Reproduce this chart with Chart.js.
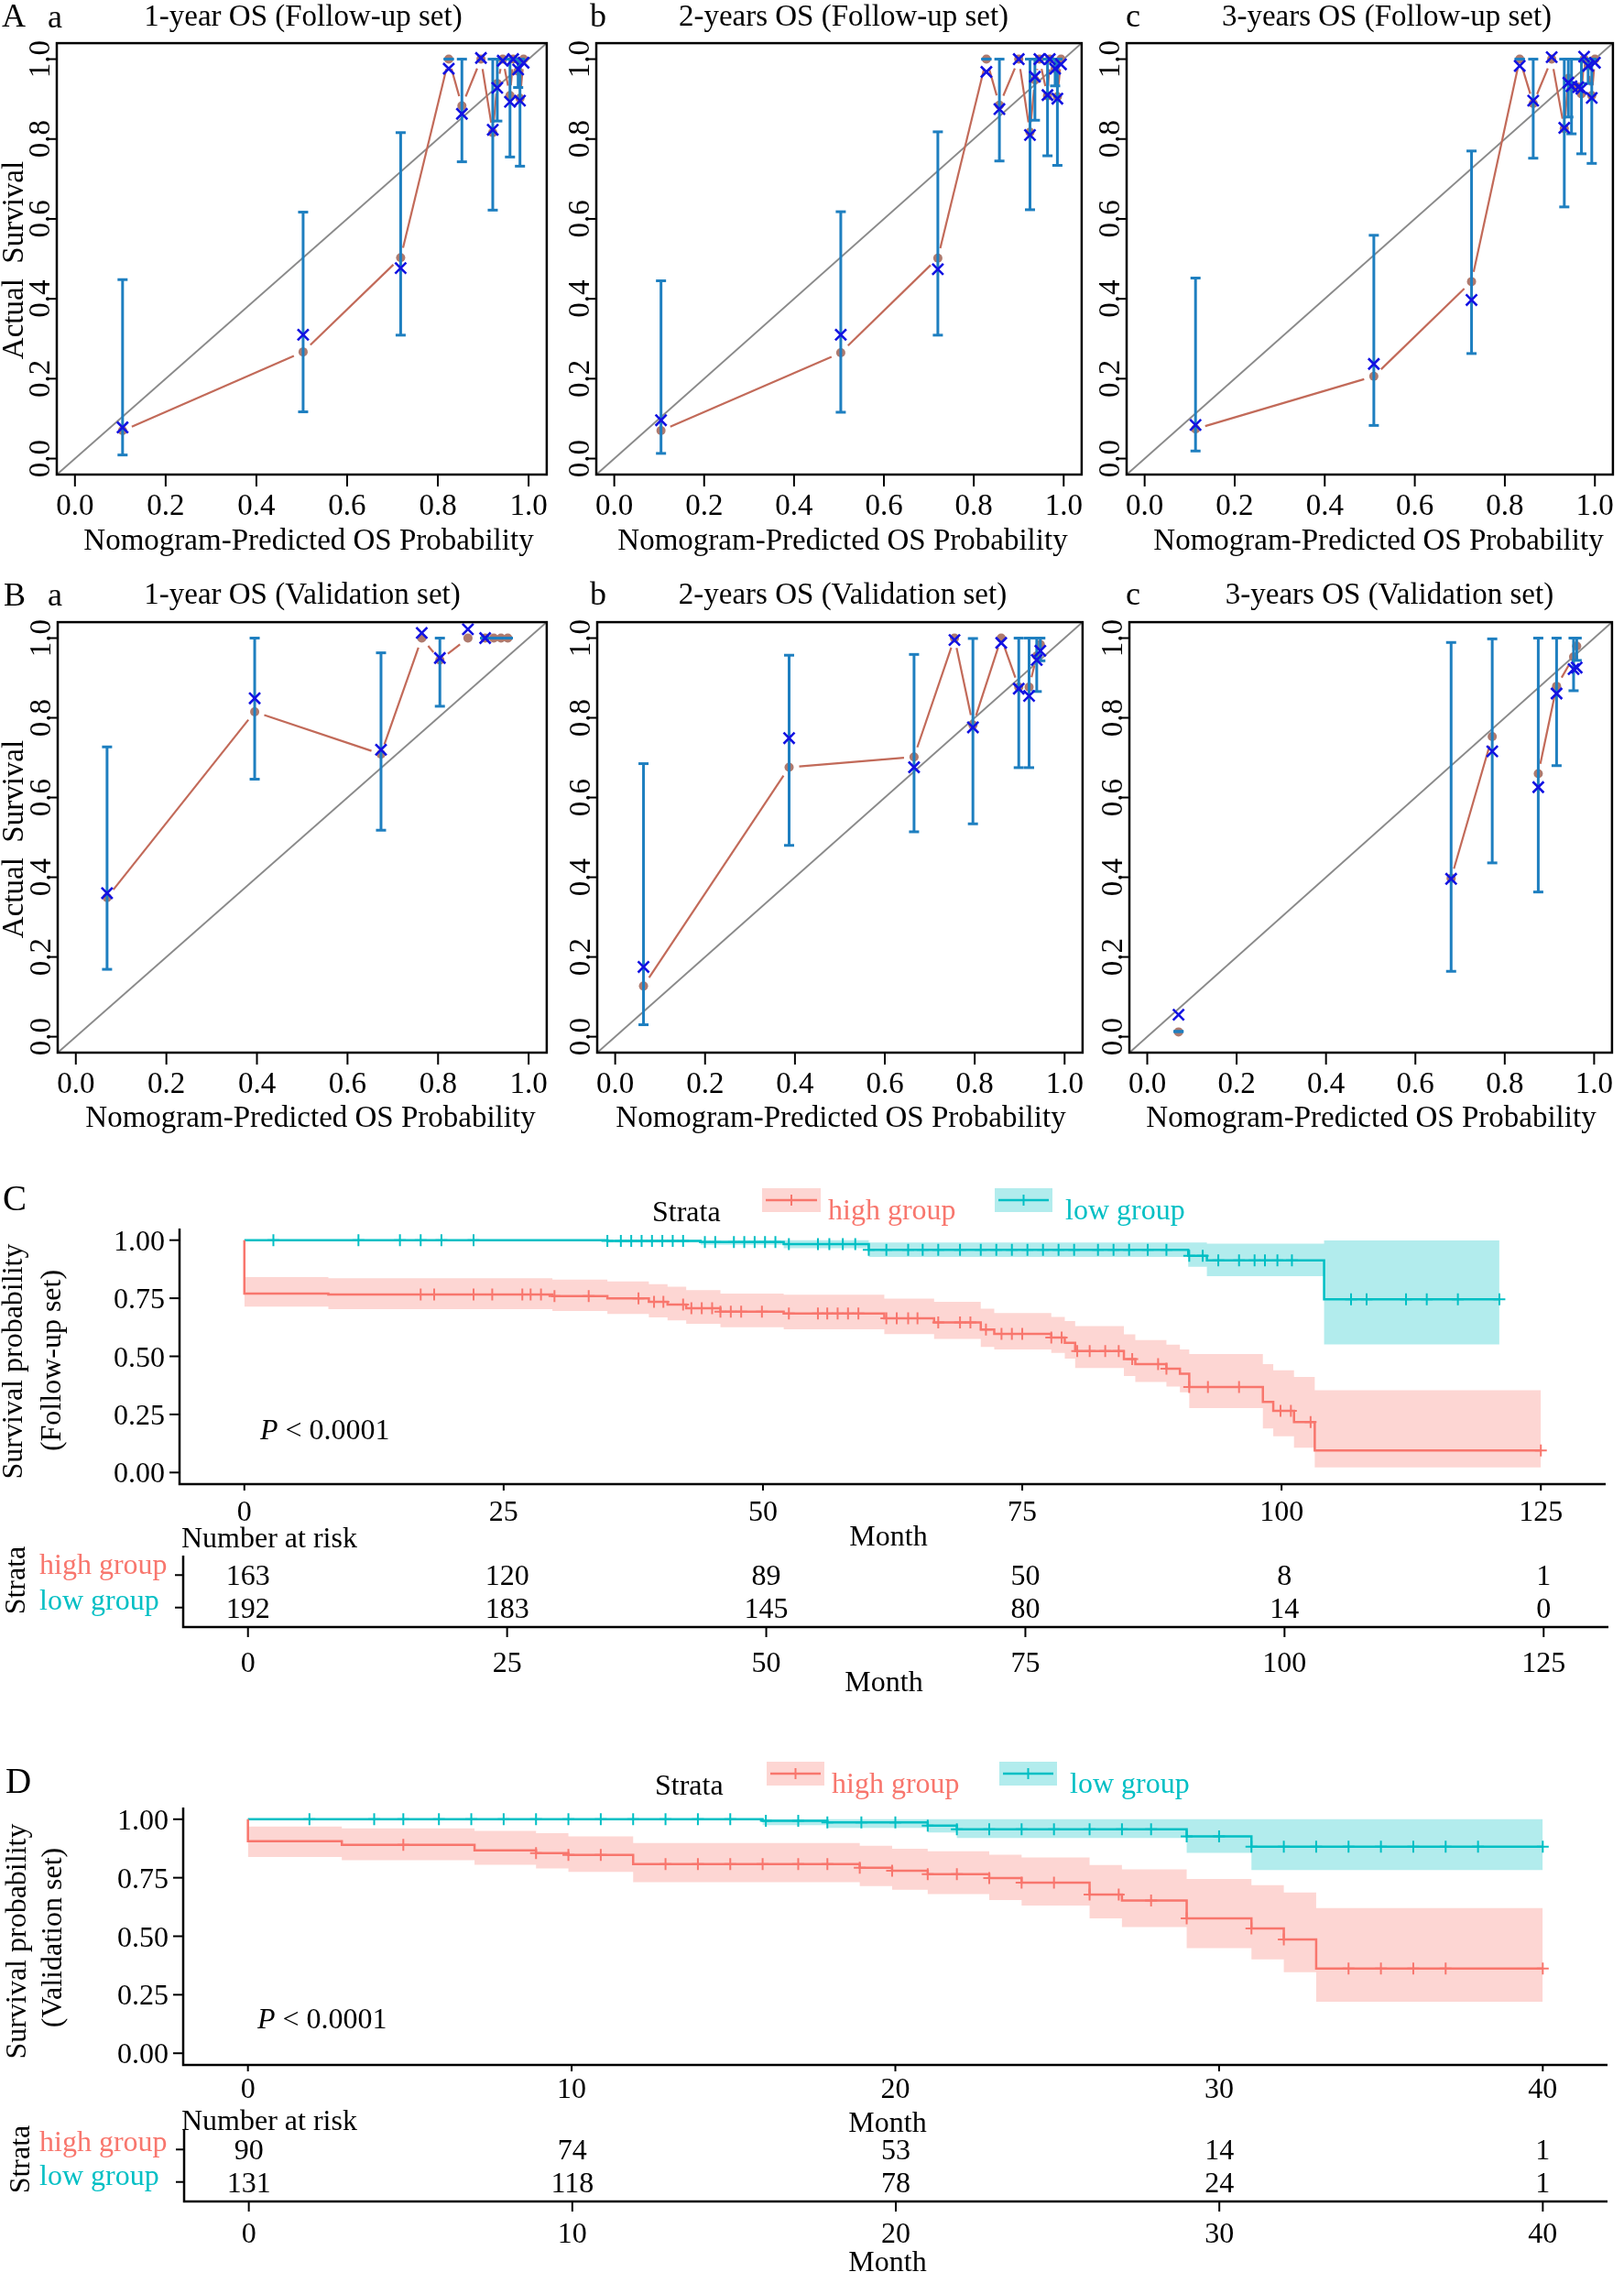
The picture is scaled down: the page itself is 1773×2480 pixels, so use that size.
<!DOCTYPE html>
<html><head><meta charset="utf-8">
<script src="https://cdn.jsdelivr.net/npm/chart.js@4.4.1/dist/chart.umd.min.js"></script>
<style>
html,body{margin:0;padding:0;background:#fff}
body{width:1773px;height:2480px;position:relative;overflow:hidden;font-family:"Liberation Serif","Times New Roman",serif}
canvas{position:absolute}
.t{position:absolute;white-space:pre;line-height:1;color:#000}
</style></head><body>
<script>
// ================= DATA =================
const calTicks = [0, 0.2, 0.4, 0.6, 0.8, 1.0];
const AX = [-0.04, 1.04];

// A a : 1-year OS (Follow-up set)
const aa_pred = [0.105, 0.503, 0.718, 0.824, 0.853, 0.895, 0.921, 0.931, 0.943, 0.959, 0.966, 0.977, 0.981, 0.989];
const aa_obs  = [0.070, 0.267, 0.503, 1.000, 0.883, 1.000, 0.816, 0.939, 1.000, 0.909, 1.000, 0.970, 0.902, 1.000];
const aa_cor  = [0.078, 0.310, 0.477, 0.976, 0.863, 1.003, 0.823, 0.928, 0.996, 0.893, 1.000, 0.974, 0.896, 0.991];
const aa_lo   = [0.009, 0.117, 0.309, 1.000, 0.743, null, 0.622, 0.845, null, 0.755, null, 0.929, 0.732, null];
const aa_hi   = [0.448, 0.617, 0.816, 1.000, 1.000, null, 1.000, 1.000, null, 1.000, null, 1.000, 1.000, null];
// A b : 2-years OS (Follow-up set)
const ab_pred = [0.104, 0.504, 0.720, 0.828, 0.857, 0.900, 0.925, 0.936, 0.946, 0.964, 0.969, 0.981, 0.986, 0.994];
const ab_obs  = [0.070, 0.265, 0.502, 1.000, 0.885, 1.000, 0.817, 0.948, 1.000, 0.908, 1.000, 0.976, 0.906, 1.000];
const ab_cor  = [0.096, 0.310, 0.474, 0.968, 0.875, 1.000, 0.810, 0.956, 1.000, 0.910, 1.000, 0.976, 0.901, 0.987];
const ab_lo   = [0.013, 0.116, 0.309, 1.000, 0.745, null, 0.623, 0.847, null, 0.758, null, 0.933, 0.734, null];
const ab_hi   = [0.445, 0.618, 0.818, 1.000, 1.000, null, 1.000, 1.000, null, 1.000, null, 1.000, 1.000, null];
// A c : 3-years OS (Follow-up set)
const ac_pred = [0.113, 0.509, 0.726, 0.833, 0.863, 0.904, 0.932, 0.941, 0.948, 0.963, 0.970, 0.976, 0.985, 0.993, 1.000];
const ac_obs  = [0.074, 0.206, 0.443, 1.000, 0.889, 1.000, 0.826, 0.952, 0.930, 0.930, 0.913, 1.000, 0.983, 0.909, 1.000];
const ac_cor  = [0.084, 0.237, 0.397, 0.983, 0.896, 1.005, 0.828, 0.941, 0.932, 0.930, 0.926, 1.006, 0.983, 0.903, 0.991];
const ac_lo   = [0.019, 0.083, 0.263, 1.000, 0.752, null, 0.630, 0.855, 0.813, null, 0.763, null, 0.939, 0.739, null];
const ac_hi   = [0.452, 0.559, 0.770, 1.000, 1.000, null, 1.000, 1.000, 1.000, null, 1.000, null, 1.000, 1.000, null];
// B a : 1-year OS (Validation set)
const ba_pred = [0.069, 0.395, 0.674, 0.764, 0.804, 0.866, 0.904, 0.923, 0.939, 0.954];
const ba_obs  = [0.349, 0.815, 0.709, 1.000, 0.945, 1.000, 1.000, 1.000, 1.000, 1.000];
const ba_cor  = [0.360, 0.849, 0.720, 1.013, 0.950, 1.022, 1.000, null, null, null];
const ba_lo   = [0.169, 0.646, 0.518, null, 0.829, null, 1.000, 1.000, 1.000, 1.000];
const ba_hi   = [0.727, 1.000, 0.963, null, 1.000, null, 1.000, 1.000, 1.000, 1.000];
// B b : 2-years OS (Validation set)
const bb_pred = [0.063, 0.387, 0.665, 0.755, 0.796, 0.859, 0.898, 0.921, 0.938, 0.946];
const bb_obs  = [0.127, 0.676, 0.702, 1.000, 0.782, 1.000, 0.877, 0.877, 0.955, 0.984];
const bb_cor  = [0.175, 0.749, 0.676, 0.995, 0.776, 0.988, 0.873, 0.855, 0.945, 0.968];
const bb_lo   = [0.030, 0.480, 0.514, null, 0.534, null, 0.675, 0.675, 0.866, 0.943];
const bb_hi   = [0.685, 0.957, 0.959, null, 0.999, null, 1.000, 1.000, 1.000, 1.000];
// B c : 3-years OS (Validation set)
const bc_pred = [0.070, 0.680, 0.772, 0.875, 0.916, 0.954, 0.961];
const bc_obs  = [0.012, 0.397, 0.753, 0.660, 0.879, 0.953, 0.980];
const bc_cor  = [0.055, 0.396, 0.716, 0.626, 0.861, 0.922, 0.926];
const bc_lo   = [0.013, 0.164, 0.436, 0.363, 0.680, 0.868, 0.944];
const bc_hi   = [0.013, 0.989, 0.998, 1.000, 1.000, 1.000, 1.000];
const bc_gapAfter = [0, 2];

// Kaplan-Meier
const kmYTicks = [0, 0.25, 0.50, 0.75, 1.00];
const cTimeTicks = [0, 25, 50, 75, 100, 125];
const dTimeTicks = [0, 10, 20, 30, 40];

// C (Follow-up set)
const cHi_time = [0, 0, 8.1, 29.7, 35.0, 39.0, 40.8, 42.6, 45.9, 52.0, 61.7, 66.5, 71.0, 72.3, 77.8, 79.1, 80.1, 84.8, 85.9, 88.9, 90.2, 91.1, 98.2, 99.2, 101.2, 103.2];
const cHi_surv = [1, 0.770, 0.766, 0.759, 0.749, 0.735, 0.723, 0.707, 0.692, 0.684, 0.664, 0.646, 0.615, 0.597, 0.581, 0.558, 0.523, 0.488, 0.466, 0.447, 0.425, 0.368, 0.304, 0.265, 0.217, 0.095];
const cHi_up   = [1, 0.841, 0.836, 0.830, 0.822, 0.810, 0.800, 0.785, 0.770, 0.765, 0.748, 0.735, 0.705, 0.686, 0.670, 0.652, 0.630, 0.595, 0.570, 0.550, 0.530, 0.510, 0.466, 0.440, 0.411, 0.354];
const cHi_lo   = [1, 0.714, 0.703, 0.695, 0.682, 0.668, 0.655, 0.640, 0.625, 0.616, 0.596, 0.575, 0.540, 0.530, 0.515, 0.490, 0.450, 0.415, 0.390, 0.370, 0.345, 0.277, 0.190, 0.156, 0.107, 0.022];
const cHi_end = 125;
const cHi_cens = [17, 18.3, 22.1, 23.9, 26.8, 27.6, 28.6, 29.9, 33.2, 38, 39.5, 40.4, 42.3, 43.1, 44.1, 45.1, 45.9, 46.9, 47.9, 49.9, 52.5, 55.3, 56.2, 57.2, 58.2, 59.2, 61.9, 62.9, 64, 64.9, 66.9, 69, 70, 71.5, 73, 74, 75, 77.8, 78.8, 80.3, 81.5, 83, 84.3, 85.6, 88.1, 88.9, 91.1, 92.9, 95.9, 99.9, 100.9, 102.8, 125];
const cLo_time = [0, 35, 44, 52, 60.2, 91, 92.8, 104.1];
const cLo_surv = [1, 0.997, 0.992, 0.983, 0.958, 0.933, 0.913, 0.745];
const cLo_up   = [1, 1, 1, 1, 0.990, 0.990, 0.985, 0.999];
const cLo_lo   = [1, 0.99, 0.980, 0.965, 0.928, 0.885, 0.845, 0.551];
const cLo_end = 121;
const cLo_cens = [2.8, 11, 15, 17, 19, 22.1, 35, 36.3, 37.3, 38.3, 39.3, 40.3, 41.3, 42.3, 44.4, 45.4, 47.2, 48.2, 49.2, 50.2, 51.2, 52.5, 55.3, 56.4, 57.7, 58.9, 60.2, 61.9, 64, 65.4, 66.9, 69, 71, 72.5, 74, 75.5, 77, 78.5, 80, 82.3, 83.8, 85.3, 87.1, 88.9, 91.1, 92.4, 93.9, 95.9, 97.4, 98.4, 99.6, 101, 106.7, 108.2, 112, 114, 117, 121];
const cRiskHigh = [163, 120, 89, 50, 8, 1];
const cRiskLow  = [192, 183, 145, 80, 14, 0];

// D (Validation set)
const dHi_time = [0, 0, 2.9, 7.0, 8.9, 9.9, 11.9, 18.9, 19.9, 21.0, 22.9, 23.9, 26.0, 27.0, 29.0, 31.0, 32.0, 33.0];
const dHi_surv = [1, 0.906, 0.890, 0.867, 0.855, 0.847, 0.808, 0.793, 0.780, 0.765, 0.749, 0.729, 0.678, 0.653, 0.576, 0.533, 0.486, 0.362];
const dHi_up   = [1, 0.969, 0.961, 0.950, 0.940, 0.927, 0.898, 0.887, 0.874, 0.863, 0.848, 0.837, 0.804, 0.786, 0.745, 0.718, 0.687, 0.620];
const dHi_lo   = [1, 0.839, 0.825, 0.805, 0.790, 0.775, 0.731, 0.714, 0.699, 0.680, 0.655, 0.631, 0.576, 0.539, 0.449, 0.401, 0.346, 0.220];
const dHi_end = 40;
const dHi_cens = [4.8, 8.9, 9.9, 10.9, 12.9, 13.9, 14.9, 15.9, 17.0, 17.9, 18.9, 19.9, 21.0, 21.9, 22.9, 23.9, 24.9, 26, 26.9, 27.9, 29, 31, 32, 34, 35, 36, 37, 40];
const dLo_time = [0, 15.9, 17.9, 21.0, 21.9, 29.0, 31.0];
const dLo_surv = [1, 0.993, 0.986, 0.973, 0.957, 0.927, 0.883];
const dLo_up   = [1, 1, 1, 1, 1, 1, 1];
const dLo_lo   = [1, 0.975, 0.963, 0.943, 0.920, 0.856, 0.783];
const dLo_end = 40;
const dLo_cens = [1.9, 3.9, 4.8, 5.9, 6.9, 7.9, 8.9, 9.9, 10.9, 11.9, 12.9, 13.9, 14.9, 16.0, 17.0, 17.9, 18.95, 20, 21, 21.9, 22.9, 23.9, 24.9, 26, 27, 27.9, 29, 30, 31, 32, 33, 34, 35, 36, 37, 38, 40];
const dRiskHigh = [90, 74, 53, 14, 1];
const dRiskLow  = [131, 118, 78, 24, 1];

// ================= STYLE =================
const FONT = '"Liberation Serif","Times New Roman",serif';
const BROWN_LINE = '#C26A59', BROWN_DOT = '#AE7A6E', BAR = '#1E7FC0', XBLUE = '#1212E2', DIAG = '#8A8A8A';
const RED = '#F8766D', TEAL = '#00BFC4', RED_F = 'rgba(248,118,109,0.3)', TEAL_F = 'rgba(0,191,196,0.3)';

// ================= HELPERS =================
const body = document.body;
function txt(s, x, base, size, o) {
  o = o || {};
  const d = document.createElement('div');
  d.className = 't';
  d.style.fontSize = size + 'px';
  d.style.left = x + 'px';
  d.style.top = (base - 0.8375 * size) + 'px';
  if (o.align === 'center') d.style.transform = 'translateX(-50%)';
  if (o.align === 'right') d.style.transform = 'translateX(-100%)';
  if (o.color) d.style.color = o.color;
  if (o.html) d.innerHTML = s; else d.textContent = s;
  body.appendChild(d);
}
function rtxt(s, cx, cy, size, o) {
  o = o || {};
  const d = document.createElement('div');
  d.className = 't';
  d.style.fontSize = size + 'px';
  d.style.left = cx + 'px';
  d.style.top = cy + 'px';
  d.style.transform = 'translate(-50%,-50%) rotate(-90deg)';
  if (o.color) d.style.color = o.color;
  d.textContent = s;
  body.appendChild(d);
}
function mkCanvas(L, T, R, B, pad) {
  const c = document.createElement('canvas');
  const W = Math.round(R - L + pad.l + pad.r), H = Math.round(B - T + pad.t + pad.b);
  c.width = W; c.height = H;
  c.style.width = W + 'px'; c.style.height = H + 'px';
  c.style.left = (L - pad.l) + 'px'; c.style.top = (T - pad.t) + 'px';
  body.appendChild(c);
  return c;
}
function baseOpts(pad, xr, yr) {
  return {
    responsive: false, animation: false, devicePixelRatio: 1, events: [],
    layout: {padding: {left: pad.l, right: pad.r, top: pad.t, bottom: pad.b}},
    plugins: {legend: {display: false}, tooltip: {enabled: false}},
    scales: {
      x: {type: 'linear', min: xr[0], max: xr[1], display: false},
      y: {type: 'linear', min: yr[0], max: yr[1], display: false}
    }
  };
}
function seg(ctx, x1, y1, x2, y2) { ctx.beginPath(); ctx.moveTo(x1, y1); ctx.lineTo(x2, y2); ctx.stroke(); }

// ---------- calibration ----------
function calPlugin(p) {
  return {
    id: 'cal',
    beforeDatasetDraw(chart, args) {
      if (args.index !== 1) return;
      const pts = chart.getDatasetMeta(1).data, ctx = chart.ctx, gap = 11;
      ctx.save(); ctx.strokeStyle = BROWN_LINE; ctx.lineWidth = 2.2;
      for (let i = 0; i < pts.length - 1; i++) {
        if (p.gapAfter && p.gapAfter.indexOf(i) >= 0) continue;
        const a = pts[i], b = pts[i + 1];
        const dx = b.x - a.x, dy = b.y - a.y, len = Math.hypot(dx, dy);
        if (len <= 2 * gap) continue;
        const ux = dx / len, uy = dy / len;
        seg(ctx, a.x + ux * gap, a.y + uy * gap, b.x - ux * gap, b.y - uy * gap);
      }
      ctx.restore();
    },
    afterDatasetDraw(chart, args) {
      if (args.index !== 1) return;
      const xs = chart.scales.x, ys = chart.scales.y, ctx = chart.ctx;
      ctx.save(); ctx.strokeStyle = BAR; ctx.lineWidth = 3;
      p.pred.forEach((v, i) => {
        if (p.lo[i] === null) return;
        const x = xs.getPixelForValue(v), y1 = ys.getPixelForValue(p.lo[i]), y2 = ys.getPixelForValue(p.hi[i]);
        seg(ctx, x, y1, x, y2);
        seg(ctx, x - 5.5, y1, x + 5.5, y1);
        seg(ctx, x - 5.5, y2, x + 5.5, y2);
      });
      ctx.restore();
    },
    afterDraw(chart) {
      const ctx = chart.ctx, a = chart.chartArea, xs = chart.scales.x, ys = chart.scales.y;
      ctx.save();
      ctx.strokeStyle = '#000'; ctx.lineWidth = 2.5;
      ctx.strokeRect(a.left, a.top, a.right - a.left, a.bottom - a.top);
      ctx.lineWidth = 2; ctx.fillStyle = '#000'; ctx.font = '33px ' + FONT;
      ctx.textAlign = 'center'; ctx.textBaseline = 'alphabetic';
      calTicks.forEach(t => {
        const x = xs.getPixelForValue(t);
        seg(ctx, x, a.bottom, x, a.bottom + 13);
        ctx.fillText(t.toFixed(1), x, a.bottom + 44);
        const y = ys.getPixelForValue(t);
        seg(ctx, a.left - 11, y, a.left, y);
        ctx.save(); ctx.translate(a.left - 8, y); ctx.rotate(-Math.PI / 2);
        ctx.fillText(t.toFixed(1), 0, 0); ctx.restore();
      });
      ctx.restore();
    }
  };
}
function calChart(box, p) {
  const pad = {l: 70, r: 6, t: 6, b: 56};
  const c = mkCanvas(box.L, box.T, box.R, box.B, pad);
  const xy = ys => p.pred.map((x, i) => ({x: x, y: ys[i]})).filter(o => o.y !== null);
  new Chart(c, {
    type: 'scatter',
    data: {datasets: [
      {data: xy(p.cor), pointStyle: 'crossRot', pointRadius: 8.5, pointBorderColor: XBLUE, pointBackgroundColor: XBLUE, pointBorderWidth: 2.6},
      {data: xy(p.obs), pointStyle: 'circle', pointRadius: 5, pointBackgroundColor: BROWN_DOT, pointBorderColor: BROWN_DOT, pointBorderWidth: 0},
      {type: 'line', data: [{x: AX[0], y: AX[0]}, {x: AX[1], y: AX[1]}], borderColor: DIAG, borderWidth: 2, pointRadius: 0, showLine: true, fill: false}
    ]},
    options: baseOpts(pad, AX, AX),
    plugins: [calPlugin(p)]
  });
}

// ---------- Kaplan-Meier ----------
function stepData(times, vals, end) {
  const out = [{x: times[0], y: vals[0]}];
  for (let i = 1; i < times.length; i++) {
    out.push({x: times[i], y: vals[i - 1]});
    out.push({x: times[i], y: vals[i]});
  }
  out.push({x: end, y: vals[vals.length - 1]});
  return out;
}
function censorData(cens, times, vals) {
  return cens.map(t => {
    let k = 0;
    for (let i = 0; i < times.length; i++) if (times[i] <= t) k = i;
    return {x: t, y: vals[k]};
  });
}
function kmPlugin(k) {
  return {
    id: 'km',
    afterDraw(chart) {
      const ctx = chart.ctx, a = chart.chartArea, xs = chart.scales.x, ys = chart.scales.y, top = k.canvasTop;
      ctx.save();
      ctx.strokeStyle = '#000'; ctx.lineWidth = 2.5;
      ctx.beginPath(); ctx.moveTo(a.left, a.top); ctx.lineTo(a.left, a.bottom); ctx.lineTo(a.right, a.bottom); ctx.stroke();
      ctx.lineWidth = 2; ctx.fillStyle = '#000'; ctx.font = '32px ' + FONT; ctx.textBaseline = 'alphabetic';
      ctx.textAlign = 'center';
      k.xTicks.forEach(t => {
        const x = xs.getPixelForValue(t);
        seg(ctx, x, a.bottom, x, a.bottom + 7);
        ctx.fillText(String(t), x, k.xLabBase - top);
      });
      ctx.textAlign = 'right';
      kmYTicks.forEach(t => {
        const y = ys.getPixelForValue(t);
        seg(ctx, a.left - 11, y, a.left, y);
        ctx.fillText(t.toFixed(2), a.left - 16, y + 11);
      });
      k.keys.forEach(key => {
        ctx.fillStyle = key.fill; ctx.fillRect(key.x, key.y - top, key.w, key.h);
        const ly = key.y - top + key.h / 2, cx = key.x + key.w / 2;
        ctx.strokeStyle = key.color; ctx.lineWidth = 2.5;
        seg(ctx, key.x + 4, ly, key.x + key.w - 4, ly);
        ctx.lineWidth = 2; seg(ctx, cx, ly - 6, cx, ly + 6);
      });
      ctx.restore();
    }
  };
}
function kmChart(area, xr, g, k) {
  const pad = {l: area.L, r: 1773 - area.R, t: area.T - k.canvasTop, b: k.padB};
  const c = mkCanvas(area.L, area.T, area.R, area.B, pad);
  const none = 'rgba(0,0,0,0)';
  const line = (data, color) => ({type: 'line', data: data, borderColor: color, borderWidth: 2.5, pointRadius: 0, fill: false, tension: 0});
  const band = (data, fillv, bg) => ({type: 'line', data: data, borderColor: none, borderWidth: 0, pointRadius: 0, fill: fillv, backgroundColor: bg, tension: 0});
  const cens = (data, color) => ({type: 'scatter', data: data, pointStyle: 'cross', pointRadius: 6.5, pointBorderColor: color, pointBackgroundColor: color, pointBorderWidth: 2});
  new Chart(c, {
    type: 'scatter',
    data: {datasets: [
      cens(censorData(g.hi.cens, g.hi.time, g.hi.surv), RED),
      cens(censorData(g.lo.cens, g.lo.time, g.lo.surv), TEAL),
      line(stepData(g.hi.time, g.hi.surv, g.hi.end), RED),
      line(stepData(g.lo.time, g.lo.surv, g.lo.end), TEAL),
      band(stepData(g.hi.time, g.hi.up, g.hi.end), '+1', RED_F),
      band(stepData(g.hi.time, g.hi.lo, g.hi.end), false, none),
      band(stepData(g.lo.time, g.lo.up, g.lo.end), '+1', TEAL_F),
      band(stepData(g.lo.time, g.lo.lo, g.lo.end), false, none)
    ]},
    options: baseOpts(pad, xr, [-0.05, 1.05]),
    plugins: [kmPlugin(k)]
  });
}
function riskPlugin(r) {
  return {
    id: 'risk',
    afterDraw(chart) {
      const ctx = chart.ctx, a = chart.chartArea, xs = chart.scales.x;
      ctx.save(); ctx.strokeStyle = '#000'; ctx.lineWidth = 2.5;
      ctx.beginPath(); ctx.moveTo(a.left, a.top); ctx.lineTo(a.left, a.bottom); ctx.lineTo(a.right, a.bottom); ctx.stroke();
      ctx.lineWidth = 2; ctx.fillStyle = '#000'; ctx.font = '32px ' + FONT; ctx.textAlign = 'center'; ctx.textBaseline = 'alphabetic';
      r.ticks.forEach(t => {
        const x = xs.getPixelForValue(t);
        seg(ctx, x, a.bottom, x, a.bottom + 11);
        ctx.fillText(String(t), x, a.bottom + r.labOff);
      });
      chart.data.datasets.forEach((ds, di) => {
        const meta = chart.getDatasetMeta(di);
        if (meta.data.length) seg(ctx, a.left - 9, meta.data[0].y, a.left, meta.data[0].y);
        meta.data.forEach((el, i) => ctx.fillText(String(ds.counts[i]), el.x, el.y + 11));
      });
      ctx.restore();
    }
  };
}
function riskChart(area, xr, ticks, high, low, labOff) {
  const pad = {l: area.L, r: 1773 - area.R, t: 4, b: labOff + 10};
  const c = mkCanvas(area.L, area.T, area.R, area.B, pad);
  new Chart(c, {
    type: 'scatter',
    data: {datasets: [
      {data: ticks.map(t => ({x: t, y: 2})), counts: high, pointRadius: 0},
      {data: ticks.map(t => ({x: t, y: 1})), counts: low, pointRadius: 0}
    ]},
    options: baseOpts(pad, xr, [0.4, 2.6]),
    plugins: [riskPlugin({ticks: ticks, labOff: labOff})]
  });
}

// ================= BUILD =================
// Row A
calChart({L: 62, R: 602, T: 42, B: 518}, {pred: aa_pred, obs: aa_obs, cor: aa_cor, lo: aa_lo, hi: aa_hi});
calChart({L: 651, R: 1186, T: 42, B: 518}, {pred: ab_pred, obs: ab_obs, cor: ab_cor, lo: ab_lo, hi: ab_hi});
calChart({L: 1230, R: 1766, T: 42, B: 518}, {pred: ac_pred, obs: ac_obs, cor: ac_cor, lo: ac_lo, hi: ac_hi});
// Row B
calChart({L: 63, R: 602, T: 674, B: 1149}, {pred: ba_pred, obs: ba_obs, cor: ba_cor, lo: ba_lo, hi: ba_hi});
calChart({L: 652, R: 1187, T: 674, B: 1149}, {pred: bb_pred, obs: bb_obs, cor: bb_cor, lo: bb_lo, hi: bb_hi});
calChart({L: 1233, R: 1765, T: 674, B: 1149}, {pred: bc_pred, obs: bc_obs, cor: bc_cor, lo: bc_lo, hi: bc_hi, gapAfter: bc_gapAfter});

const XT = 'Nomogram-Predicted OS Probability';
txt('A', 2, 29, 36); txt('a', 52, 30, 36);
txt('1-year OS (Follow-up set)', 331, 29, 33, {align: 'center'});
txt('b', 644, 29, 36);
txt('2-years OS (Follow-up set)', 921, 29, 33, {align: 'center'});
txt('c', 1229, 29, 36);
txt('3-years OS (Follow-up set)', 1514, 29, 33, {align: 'center'});
rtxt('Actual  Survival', 14, 284, 33);
txt(XT, 337, 601, 33, {align: 'center'}); txt(XT, 920, 601, 33, {align: 'center'}); txt(XT, 1505, 601, 33, {align: 'center'});

txt('B', 4, 661, 36); txt('a', 52, 661, 36);
txt('1-year OS (Validation set)', 330, 660, 33, {align: 'center'});
txt('b', 644, 660, 36);
txt('2-years OS (Validation set)', 920, 660, 33, {align: 'center'});
txt('c', 1229, 660, 36);
txt('3-years OS (Validation set)', 1517, 660, 33, {align: 'center'});
rtxt('Actual  Survival', 14, 916, 33);
txt(XT, 339, 1231, 33, {align: 'center'}); txt(XT, 918, 1231, 33, {align: 'center'}); txt(XT, 1497, 1231, 33, {align: 'center'});

// Panel C
kmChart({L: 196, R: 1753, T: 1341, B: 1620}, [-6.25, 131.25],
  {hi: {time: cHi_time, surv: cHi_surv, up: cHi_up, lo: cHi_lo, end: cHi_end, cens: cHi_cens},
   lo: {time: cLo_time, surv: cLo_surv, up: cLo_up, lo: cLo_lo, end: cLo_end, cens: cLo_cens}},
  {canvasTop: 1285, padB: 50, xTicks: cTimeTicks, xLabBase: 1660,
   keys: [{x: 832, y: 1297, w: 64, h: 26, fill: RED_F, color: RED}, {x: 1086, y: 1297, w: 63, h: 26, fill: TEAL_F, color: TEAL}]});
riskChart({L: 200, R: 1756, T: 1698, B: 1776}, [-6.25, 131.25], cTimeTicks, cRiskHigh, cRiskLow, 49);

txt('C', 3, 1321, 39);
txt('Strata', 712, 1333, 32);
txt('high group', 904, 1331, 32, {color: RED});
txt('low group', 1163, 1331, 32, {color: TEAL});
txt('<i>P</i> &lt; 0.0001', 284, 1571, 32, {html: true});
rtxt('Survival probability', 13, 1486, 32);
rtxt('(Follow-up set)', 55, 1485, 32);
txt('Month', 970, 1687, 32, {align: 'center'});
txt('Number at risk', 198, 1689, 32);
rtxt('Strata', 16, 1725, 32);
txt('high group', 43, 1718, 32, {color: RED});
txt('low group', 43, 1757, 32, {color: TEAL});
txt('Month', 965, 1846, 32, {align: 'center'});

// Panel D
kmChart({L: 200, R: 1755, T: 1973, B: 2254}, [-2, 42],
  {hi: {time: dHi_time, surv: dHi_surv, up: dHi_up, lo: dHi_lo, end: dHi_end, cens: dHi_cens},
   lo: {time: dLo_time, surv: dLo_surv, up: dLo_up, lo: dLo_lo, end: dLo_end, cens: dLo_cens}},
  {canvasTop: 1915, padB: 46, xTicks: dTimeTicks, xLabBase: 2290,
   keys: [{x: 837, y: 1923, w: 63, h: 26, fill: RED_F, color: RED}, {x: 1091, y: 1923, w: 63, h: 26, fill: TEAL_F, color: TEAL}]});
riskChart({L: 201, R: 1755, T: 2325, B: 2403}, [-2, 42], dTimeTicks, dRiskHigh, dRiskLow, 45);

txt('D', 6, 1957, 39);
txt('Strata', 715, 1959, 32);
txt('high group', 908, 1957, 32, {color: RED});
txt('low group', 1168, 1957, 32, {color: TEAL});
txt('<i>P</i> &lt; 0.0001', 281, 2214, 32, {html: true});
rtxt('Survival probability', 17, 2119, 32);
rtxt('(Validation set)', 56, 2115, 32);
txt('Month', 969, 2327, 32, {align: 'center'});
txt('Number at risk', 198, 2325, 32);
rtxt('Strata', 21, 2357, 32);
txt('high group', 43, 2348, 32, {color: RED});
txt('low group', 43, 2385, 32, {color: TEAL});
txt('Month', 969, 2479, 32, {align: 'center'});
</script>
</body></html>
